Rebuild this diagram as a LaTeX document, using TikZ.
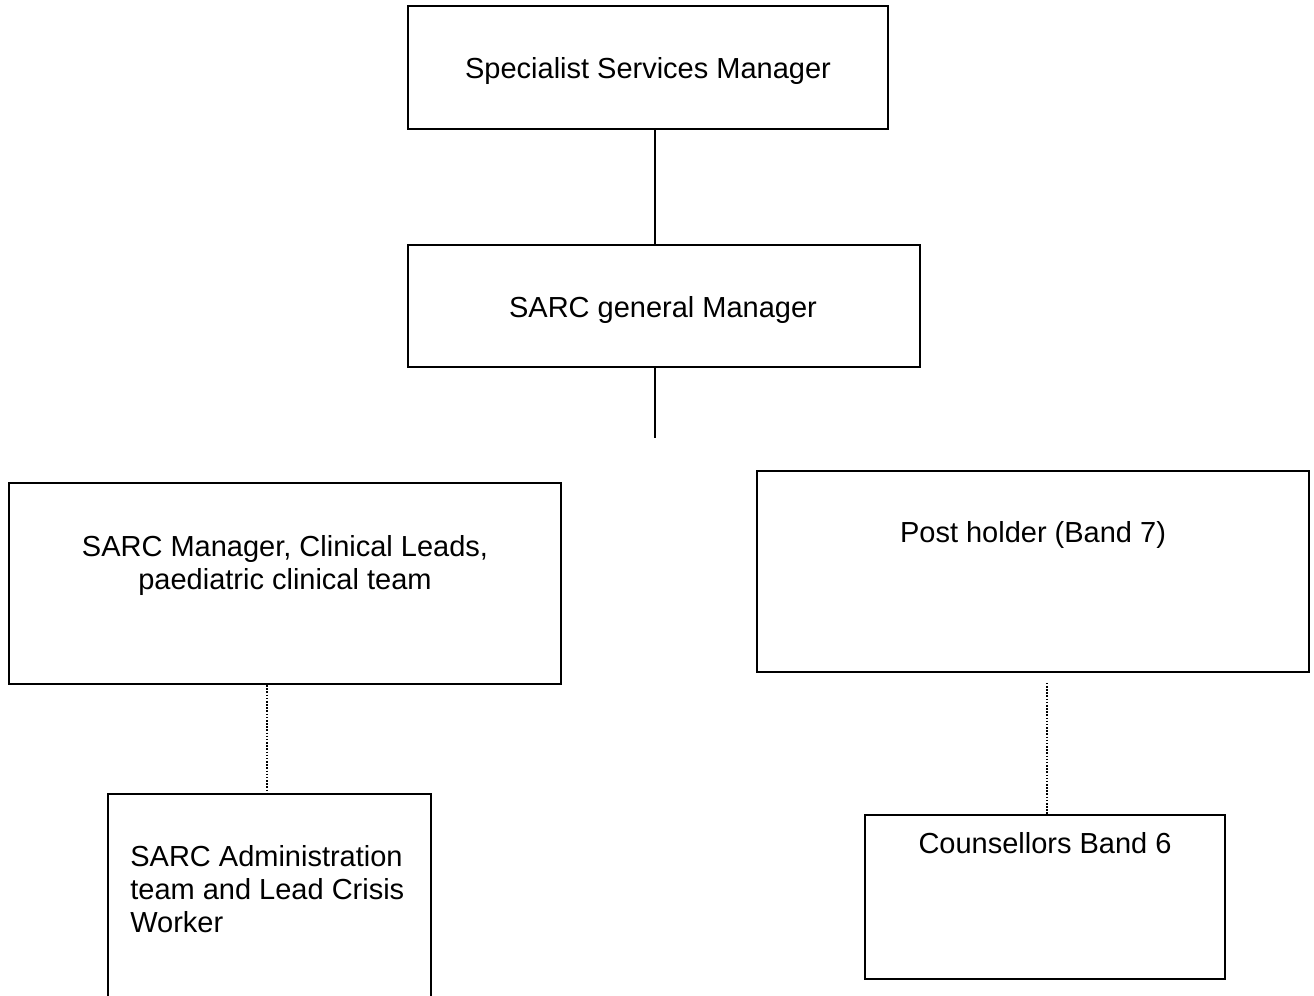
\documentclass[tikz,border=0pt]{standalone}
\usepackage{fontspec}
\setmainfont{Liberation Sans}
\begin{document}
\begin{tikzpicture}[x=0.02cm, y=-0.02cm,
    box/.style={draw, line width=1.3pt, inner sep=0pt},
    txt/.style={inner sep=0pt, font=\fontsize{16.5}{18.7}\selectfont},
    link/.style={line width=1.3pt},
    dotlink/.style={line width=0.9pt, dash pattern=on 0.9pt off 0.9pt}]
    \useasboundingbox (0, 0) rectangle (1314, 995);
    \node[box, minimum width=9.6cm, minimum height=2.46cm] (ssm) at (648, 67.5) {};
    \node[txt] (ssm-t) at (648, 71) {Specialist Services Manager};
    \node[box, minimum width=10.24cm, minimum height=2.44cm] (sgm) at (664, 306) {};
    \node[txt] (sgm-t) at (663, 310) {SARC general Manager};
    \node[box, minimum width=11.04cm, minimum height=4.02cm] (lead) at (285, 583.5) {};
    \node[txt, align=center] (lead-t) at (285, 565.5) {SARC Manager, Clinical Leads,\\paediatric clinical team};
    \node[box, minimum width=11.04cm, minimum height=4.02cm] (post) at (1033, 571.5) {};
    \node[txt] (post-t) at (1033, 535) {Post holder (Band 7)};
    \node[box, minimum width=6.46cm, minimum height=5cm] (admin) at (269.5, 919) {};
    \node[txt, align=left, anchor=north west] (admin-t) at (130, 845) {SARC Administration\\team and Lead Crisis\\Worker};
    \node[box, minimum width=7.2cm, minimum height=3.28cm] (couns) at (1045, 897) {};
    \node[txt] (couns-t) at (1045, 843) {Counsellors Band 6};
    \coordinate (stem) at (655, 438);
    \draw[link] (ssm.south -| stem) -- (sgm.north -| stem);
    \draw[link] (sgm.south -| stem) -- (stem);
    \draw[dotlink] ([xshift=-1.4pt]admin.north |- lead.south) -- ([xshift=-1.4pt]admin.north);
    \draw[dotlink, shorten <=5.5pt] ([xshift=1pt]couns.north |- post.south) -- ([xshift=1pt]couns.north);
\end{tikzpicture}
\end{document}
